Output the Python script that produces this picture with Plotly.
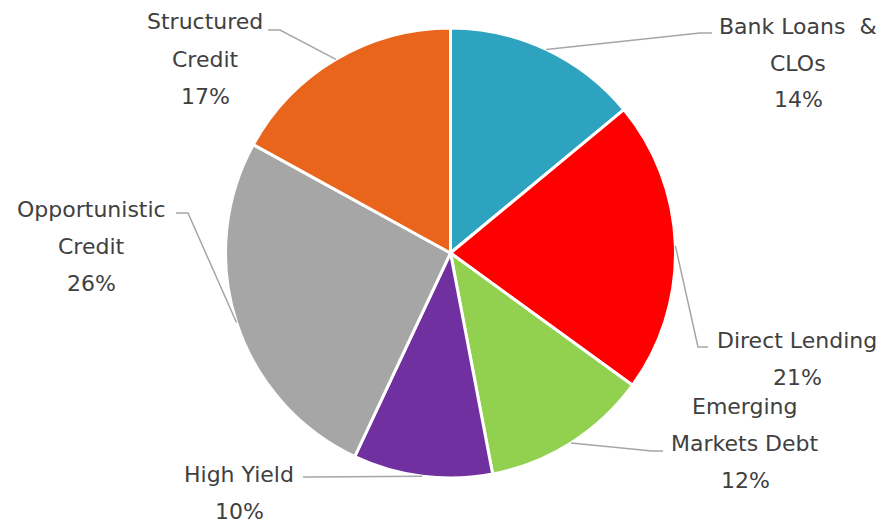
import math
import plotly.graph_objects as go

# ---- data ----
categories = ["Bank Loans & CLOs", "Direct Lending", "Emerging Markets Debt",
              "High Yield", "Opportunistic Credit", "Structured Credit"]
values = [14, 21, 12, 10, 26, 17]
label_lines = [["Bank Loans\u00a0 &", "CLOs"], ["Direct Lending"], ["Emerging", "Markets Debt"],
               ["High Yield"], ["Opportunistic", "Credit"], ["Structured", "Credit"]]
colors = ["#2EA3C0", "#FF0000", "#92D050", "#7030A0", "#A6A6A6", "#E9651C"]

# ---- layout constants (pixels) ----
W, H = 885, 523
CX, CY, R = 450.5, 253, 225
# label block: (center x, first line y), leader elbow, leader end
label_pos = [(798, 26), (797, 340), (745, 406), (239, 474), (91, 209), (205, 22)]
elbows = [(700, 33), (698, 347), (652, 451), (310, 477), (188, 213), (280, 30)]
ends = [(712, 33), (708, 347), (663, 451), (303, 477), (176, 213), (268, 30)]
LINE_H = 37

def px(x):
    return x / W

def py(y):
    return 1 - y / H

fig = go.Figure(go.Pie(
    labels=categories, values=values, sort=False, direction="clockwise", rotation=0,
    marker=dict(colors=colors, line=dict(color="white", width=3)),
    textinfo="none", hoverinfo="label+percent",
    domain=dict(x=[px(CX - R), px(CX + R)], y=[py(CY + R), py(CY - R)]),
    showlegend=False,
))

total = sum(values)
cum = 0
annotations = []
shapes = []
for i, v in enumerate(values):
    mid = (cum + v / 2) / total * 2 * math.pi
    cum += v
    ex = CX + R * math.sin(mid)
    ey = CY - R * math.cos(mid)
    (bx, by), (kx, ky), (nx, ny) = label_pos[i], elbows[i], ends[i]
    shapes.append(dict(type="path", xref="paper", yref="paper",
                       path=f"M {px(ex)} {py(ey)} L {px(kx)} {py(ky)} L {px(nx)} {py(ny)}",
                       line=dict(color="#A6A6A6", width=1.5)))
    lines = label_lines[i] + [f"{round(v / total * 100)}%"]
    for j, t in enumerate(lines):
        annotations.append(dict(text=t, x=px(bx), y=py(by + j * LINE_H), xref="paper", yref="paper",
                                xanchor="center", yanchor="middle", showarrow=False,
                                font=dict(family="DejaVu Sans", size=22, color="#404040")))

fig.update_layout(width=W, height=H, margin=dict(l=0, r=0, t=0, b=0),
                  paper_bgcolor="white", plot_bgcolor="white",
                  annotations=annotations, shapes=shapes)
fig.write_html("out.html", config={"displayModeBar": False},
               post_script="document.body.style.margin='0';document.body.style.overflow='hidden';")
